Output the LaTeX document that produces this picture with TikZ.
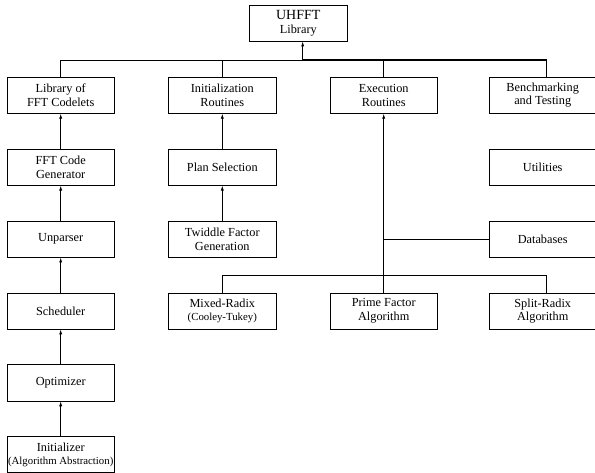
\documentclass[tikz,border=0pt]{standalone}
\usepackage{fontspec}
\setmainfont{Liberation Serif}
\usetikzlibrary{arrows.meta}
\newcommand\smalltxt{\fontsize{10.8}{12}\selectfont}
\begin{document}
\begin{tikzpicture}[x=1pt,y=-1pt,
  box/.style={draw,line width=0.8pt,minimum width=107.5pt,minimum height=36pt,inner sep=0pt,align=center,font=\fontsize{12.3}{13.5}\selectfont},
  link/.style={line width=0.8pt},
  heavy/.style={line width=1.3pt},
  up/.style={link,-{Latex[length=5pt,width=3.2pt]}}]
\useasboundingbox (0,0) rectangle (595,473);
% root
\node[box,minimum width=98pt] (root) at (298.3,23) {{\fontsize{14}{15}\selectfont UHFFT}\\Library};
% row 2
\node[box] (lib)   at (60.7,95.3)  {Library of\\FFT Codelets};
\node[box] (init)  at (222.3,95.3) {Initialization\\Routines};
\node[box] (exec)  at (383.7,95.3) {Execution\\Routines};
\node[box] (bench) at (542.7,95.3) {Benchmarking\\and Testing};
% row 3
\node[box] (gen)   at (60.7,167.2)  {FFT Code\\Generator};
\node[box] (plan)  at (222.3,167.2) {Plan Selection};
\node[box] (util)  at (542.7,167.2) {Utilities};
% row 4
\node[box] (unp)   at (60.7,239.1)  {Unparser};
\node[box] (twid)  at (222.3,239.1) {Twiddle Factor\\Generation};
\node[box] (db)    at (542.7,239.1) {Databases};
% row 5
\node[box] (sched) at (60.7,311)   {Scheduler};
\node[box] (mixed) at (222.3,311)  {Mixed-Radix\\{\smalltxt (Cooley-Tukey)}};
\node[box] (pfa)   at (383.7,311)  {Prime Factor\\Algorithm};
\node[box] (split) at (542.7,311)  {Split-Radix\\Algorithm};
% rows 6-7
\node[box] (opt)   at (60.7,382.9) {Optimizer};
\node[box] (ini)   at (60.7,454.8) {Initializer\\{\smalltxt(Algorithm Abstraction)}};
% top bus
\coordinate (bus) at (302.7,60);
\draw[up] (bus) -- (bus |- root.south);
\draw[link] (lib.north) |- (bus);
\draw[link] (init.north) |- (bus);
\draw[heavy] (bus) -| (exec.north);
\draw[heavy] (bus) -| ([xshift=4pt]bench.north);
% left column
\draw[up] (gen.north) -- (lib.south);
\draw[up] (unp.north) -- (gen.south);
\draw[up] (sched.north) -- (unp.south);
\draw[up] (opt.north) -- (sched.south);
\draw[up] (ini.north) -- (opt.south);
% second column
\draw[up] (plan.north) -- (init.south);
\draw[up] (twid.north) -- (plan.south);
% execution column
\draw[up] (pfa.north) -- (exec.south);
\draw[link] (db.west) -- (db.west -| exec.south);
\coordinate (bus2) at (383.7,275);
\draw[link] (mixed.north) |- (bus2);
\draw[link] (bus2) -| ([xshift=4pt]split.north);
\end{tikzpicture}
\end{document}
